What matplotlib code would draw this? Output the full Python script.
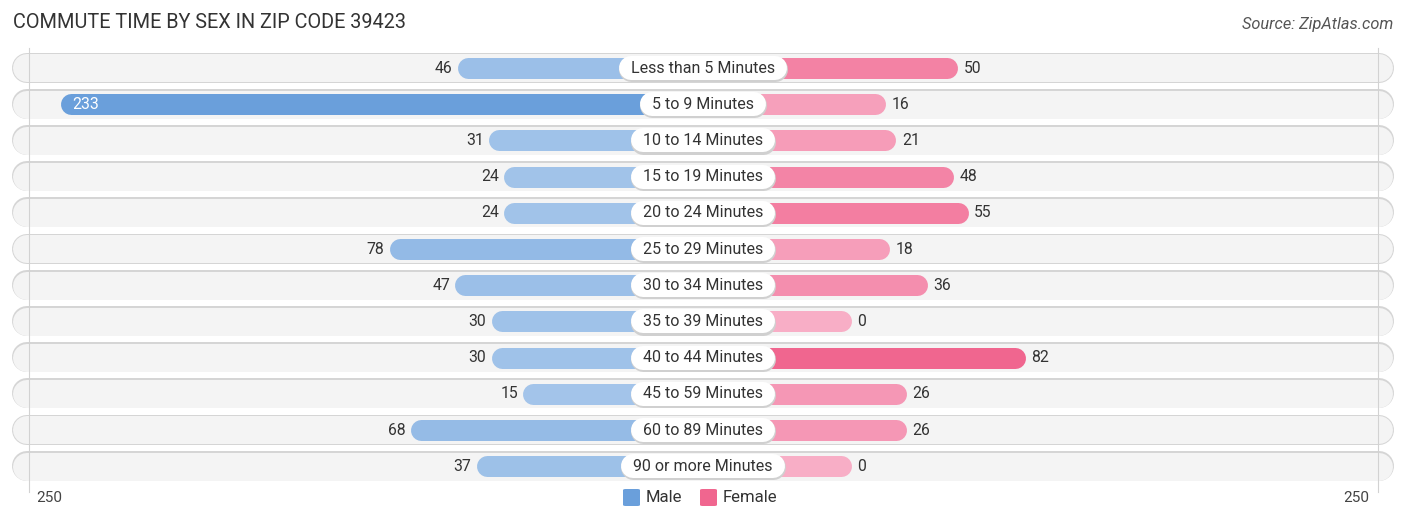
import matplotlib
matplotlib.use("Agg")
import matplotlib.pyplot as plt
import matplotlib.colors as mcolors
import numpy as np

# ── Data ──────────────────────────────────────────────────────────────────────
categories = ["Less than 5 Minutes", "5 to 9 Minutes", "10 to 14 Minutes",
              "15 to 19 Minutes", "20 to 24 Minutes", "25 to 29 Minutes",
              "30 to 34 Minutes", "35 to 39 Minutes", "40 to 44 Minutes",
              "45 to 59 Minutes", "60 to 89 Minutes", "90 or more Minutes"]
male   = [46, 233, 31, 24, 24, 78, 47, 30, 30, 15, 68, 37]
female = [50, 16, 21, 48, 55, 18, 36, 0, 82, 26, 26, 0]
axis_max = 250

# ── Layout (pixels at dpi 100) ────────────────────────────────────────────────
W, H = 1406, 523
K = 2.12          # px per unit
GAP = 70          # units between centre and zero of each side
ROW0, ROWSTEP = 68, 36.2
PT = 72 / 100     # points per pixel

plt.rcParams['font.family'] = ['Roboto', 'DejaVu Sans']

fig = plt.figure(figsize=(W / 100, H / 100), dpi=100)
ax = fig.add_axes([0, 0, 1, 1])
half = (W / 2) / K
ax.set_xlim(-half, half)
ax.set_ylim((H - ROW0) / ROWSTEP, -ROW0 / ROWSTEP)
ax.axis("off")

def mix(c1, c2, t):
    a, b = np.array(mcolors.to_rgb(c1)), np.array(mcolors.to_rgb(c2))
    return tuple(a + (b - a) * t)

male_lo, male_hi = "#a7c7eb", "#6a9fdb"
fem_lo, fem_hi = "#f8aec6", "#f0668f"

# grid lines at +/-250
edge = GAP + axis_max
for xg in (-edge + 4 / K, edge - 3 / K):
    ax.plot([xg, xg], [-0.55, len(categories) - 0.3], color="#d2d2d2", lw=0.8, zorder=1)

# row backgrounds
bg_r = 15 / K
for i in range(len(categories)):
    x0, x1 = -326 + bg_r, 326 - bg_r
    ax.plot([x0, x1], [i - 0.01, i - 0.01], color="#d5d5d5", lw=30 * PT,
            solid_capstyle="round", zorder=0.5)
    ax.plot([x0, x1], [i + 0.01, i + 0.01], color="#f4f4f4", lw=28 * PT,
            solid_capstyle="round", zorder=0.6)

bar_r = 10.5 / K
mmax, fmax = max(male), max(female)
for i, (m, f) in enumerate(zip(male, female)):
    cm = mix(male_lo, male_hi, m / mmax)
    cf = mix(fem_lo, fem_hi, f / fmax)
    ax.plot([0, -(GAP + m) + bar_r], [i, i], color=cm, lw=21 * PT,
            solid_capstyle="round", zorder=2)
    ax.plot([0, (GAP + f) - bar_r], [i, i], color=cf, lw=21 * PT,
            solid_capstyle="round", zorder=2)
    if m > 200:
        ax.text(-(GAP + m) + 12 / K, i, str(m), ha="left", va="center",
                fontsize=11.3, color="white", zorder=5)
    else:
        ax.text(-(GAP + m) - 5 / K, i, str(m), ha="right", va="center",
                fontsize=11.3, color="#333333", zorder=5)
    ax.text((GAP + f) + 6 / K, i, str(f), ha="left", va="center",
            fontsize=11.3, color="#333333", zorder=5)

# category pills
fig.canvas.draw()
renderer = fig.canvas.get_renderer()
pill_r = 12 / K
for i, cat in enumerate(categories):
    t = ax.text(0, i, cat, ha="center", va="center", fontsize=11.5,
                color="#333333", zorder=7)
    wpx = t.get_window_extent(renderer).width
    hw = (wpx / 2 + 12) / K
    ax.plot([-hw + pill_r, hw - pill_r], [i + 0.035, i + 0.035], color="#d0d0d0",
            lw=25 * PT, solid_capstyle="round", zorder=5.5)
    ax.plot([-hw + pill_r, hw - pill_r], [i, i], color="white",
            lw=24 * PT, solid_capstyle="round", zorder=6)

# axis tick labels
ybot = len(categories) - 1 + (498 - 466) / ROWSTEP
ax.text(-edge + 12 / K, ybot, str(axis_max), ha="left", va="center",
        fontsize=11, color="#444444")
ax.text(edge - 12 / K, ybot, str(axis_max), ha="right", va="center",
        fontsize=11, color="#444444")

# legend
sq = 17
for lx, col, lab in ((623, male_hi, "Male"), (700, fem_hi, "Female")):
    fig.patches.append(matplotlib.patches.FancyBboxPatch(
        (lx / W, (H - 506) / H), sq / W, sq / H,
        boxstyle="round,pad=0,rounding_size=0.002", transform=fig.transFigure,
        facecolor=col, edgecolor="none"))
    fig.text((lx + sq + 6) / W, (H - 498) / H, lab, ha="left", va="center",
             fontsize=12, color="#333333")

# title & source
fig.text(13 / W, 1 - 22 / H, "COMMUTE TIME BY SEX IN ZIP CODE 39423",
         ha="left", va="center", fontsize=14.3, color="#333333")
fig.text(1393 / W, 1 - 25 / H, "Source: ZipAtlas.com", ha="right", va="center",
         fontsize=11.8, color="#555555", style="italic")

fig.savefig("out.png", dpi=100)
